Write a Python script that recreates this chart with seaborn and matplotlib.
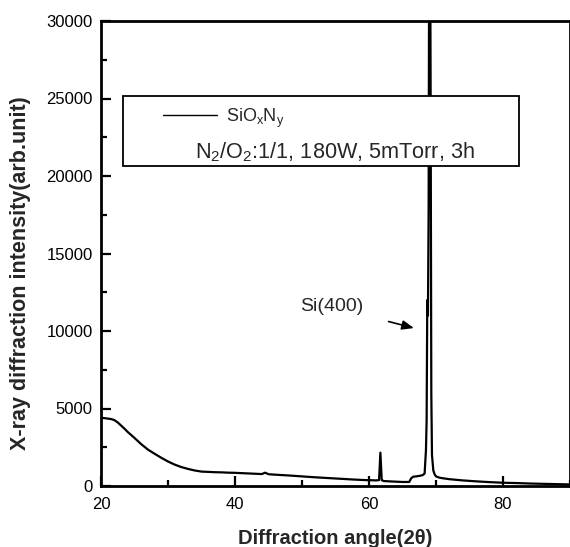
import matplotlib
matplotlib.use("Agg")
import matplotlib.pyplot as plt
from matplotlib.patches import Rectangle
from matplotlib.ticker import MultipleLocator
import seaborn as sns
import pandas as pd

angle = [20, 20.5, 21, 21.5, 22, 22.5, 23, 23.5, 24, 25, 26, 27, 28, 29, 30, 31, 32, 33, 34, 35,
         36, 37, 38, 39, 40, 41, 42, 43, 44, 44.5, 45, 46, 48, 50, 52, 54, 56, 58, 59.5, 60.5,
         61, 61.5, 61.7, 61.9, 62.2, 63, 64, 65, 66, 66.3, 66.6, 67, 67.5, 68, 68.3, 68.5, 68.6,
         68.7, 68.8, 68.9, 69.0, 69.1, 69.2, 69.3, 69.4, 69.6, 69.8, 70, 70.5, 71, 72, 74, 76,
         78, 80, 82, 84, 86, 88, 90]
intensity = [4400, 4380, 4350, 4320, 4250, 4100, 3900, 3700, 3480, 3100, 2700, 2350, 2080, 1820,
             1580, 1380, 1220, 1100, 1000, 930, 910, 890, 880, 860, 850, 830, 810, 790, 770, 860,
             760, 730, 680, 620, 560, 510, 460, 410, 380, 370, 360, 380, 2150, 380, 320, 300, 280,
             260, 260, 500, 600, 620, 650, 700, 800, 2300, 4200, 12000, 11000, 18000, 40000, 40000,
             25000, 6000, 2000, 1000, 750, 620, 540, 500, 440, 360, 300, 250, 210, 190, 160, 140,
             120, 100]

df = pd.DataFrame({"angle": angle, "intensity": intensity})

sns.set_style("white")
plt.rcParams['font.family'] = ['Liberation Sans', 'DejaVu Sans']
plt.rcParams['mathtext.fontset'] = 'custom'
plt.rcParams['mathtext.rm'] = 'Liberation Sans'
plt.rcParams['mathtext.it'] = 'Liberation Sans'

fig = plt.figure(figsize=(5.70, 5.47), dpi=100)
ax = fig.add_axes([101/570, 1-486/547, 469/570, 465/547])

sns.lineplot(data=df, x="angle", y="intensity", ax=ax, color="black", linewidth=1.6)

ax.set_xlim(20, 90)
ax.set_ylim(0, 30000)
ax.xaxis.set_major_locator(MultipleLocator(20))
ax.xaxis.set_minor_locator(MultipleLocator(10))
ax.yaxis.set_major_locator(MultipleLocator(5000))
ax.yaxis.set_minor_locator(MultipleLocator(2500))
ax.tick_params(which="both", direction="in", width=1.6, colors="black", labelsize=12,
               bottom=True, left=True, top=False, right=False)
ax.tick_params(which="major", length=7)
ax.tick_params(which="minor", length=4)
ax.tick_params(axis="x", pad=8)
ax.tick_params(axis="y", pad=6)
for s in ax.spines.values():
    s.set_linewidth(2)
    s.set_color("black")

ax.set_xlabel("Diffraction angle(2θ)", fontsize=14.5, fontweight="bold", labelpad=12)
ax.set_ylabel("X-ray diffraction intensity(arb.unit)", fontsize=15.5, fontweight="bold",
              labelpad=11, y=0.458)

# legend box
ax.add_patch(Rectangle((22/469, 1-(166-21)/465), (519-123)/469, (166-96)/465,
                       transform=ax.transAxes, facecolor="white", edgecolor="black",
                       linewidth=1.3, zorder=3))
leg = ax.legend(handles=ax.get_lines()[:1], labels=["SiO$_x$N$_y$"], frameon=False,
                loc="center left", bbox_to_anchor=(62/469, 1-(118-21)/465),
                handlelength=3.0, handletextpad=0.5, fontsize=13, borderpad=0, borderaxespad=0)
leg.get_lines()[0].set_linewidth(1.0)
leg.set_zorder(4)
ax.text(94/469, 1-(152-21)/465, "N$_2$/O$_2$:1/1, 180W, 5mTorr, 3h", transform=ax.transAxes,
        fontsize=15.6, va="center", ha="left", zorder=4)

ax.annotate("Si(400)", xy=(66.7, 10190), xytext=(54.5, 11550),
            ha="center", va="center", fontsize=14,
            arrowprops=dict(arrowstyle="-|>,head_length=0.5,head_width=0.2", color="black",
                            lw=1.2, shrinkA=16, shrinkB=0))

fig.savefig("out.png", dpi=100)
